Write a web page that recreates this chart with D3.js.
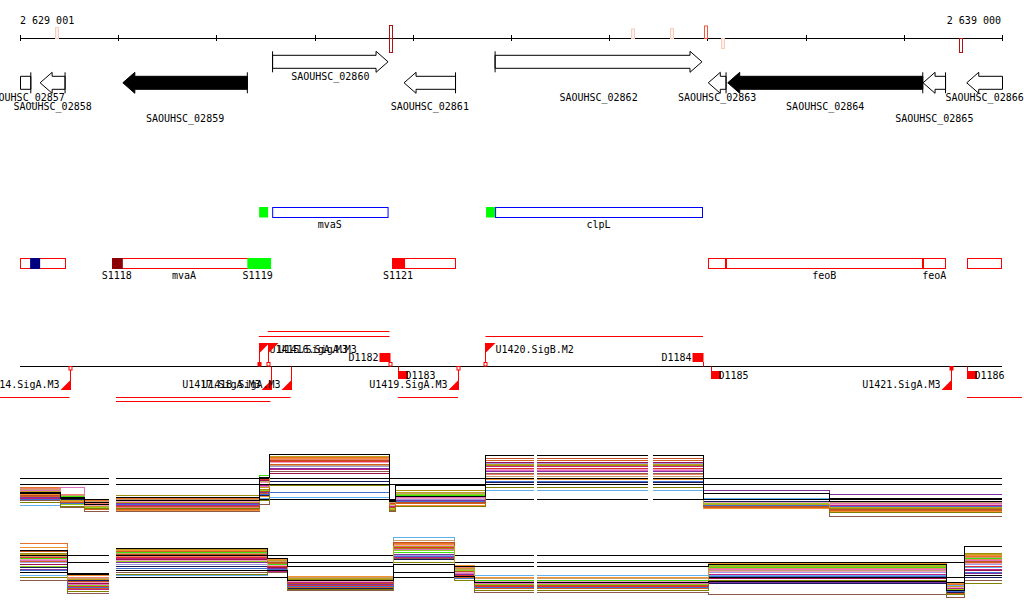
<!DOCTYPE html>
<html>
<head>
<meta charset="utf-8">
<script src="https://cdn.jsdelivr.net/npm/d3@7"></script>
<style>
  body { margin: 0; background: #fff; }
  svg { display: block; }
  text { font-family: "DejaVu Sans Mono", monospace; font-size: 10px; fill: #000; }
</style>
</head>
<body>
<script>
// region shown
const regionStart = 2629000;
const regionEnd = 2639000;

// genes (annotation)
const geneNames = ["SAOUHSC_02857", "SAOUHSC_02858", "SAOUHSC_02859", "SAOUHSC_02860", "SAOUHSC_02861",
  "SAOUHSC_02862", "SAOUHSC_02863", "SAOUHSC_02864", "SAOUHSC_02865", "SAOUHSC_02866"];
const geneStarts = [2628900, 2629205, 2630047, 2631572, 2632911, 2633838, 2636009, 2636207, 2638196, 2638641];
const geneEnds = [2629110, 2629459, 2631315, 2632748, 2633435, 2635945, 2636190, 2638193, 2638425, 2639100];
const geneStrands = [-1, -1, -1, 1, -1, 1, -1, -1, -1, -1];
const geneEssential = [false, false, true, false, false, false, false, true, false, false];
const geneLabelLine = [1, 2, 3, 0, 2, 1, 1, 2, 3, 1];

// small marks on the ruler
const markPos = [2629377, 2632779, 2632779, 2635240, 2635640, 2635983, 2636159, 2638583];
const markStrand = [1, 1, -1, 1, 1, 1, -1, -1];
const markScore = [11, 13, 14, 9.5, 10, 12.5, 10, 14];
const markKind = ["low", "high", "high", "low", "low", "mid", "low", "high"];

// transcription units (blue) with their start blocks (green)
const tuStarts = [2631568, 2633838];
const tuEnds = [2632743, 2635945];
const tuNames = ["mvaS", "clpL"];
const tuHeadStarts = [2631435, 2633746];
const tuHeadEnds = [2631526, 2633838];

// operon boxes (red)
const opStarts = [2629004, 2629938, 2632789, 2636009, 2636190, 2638196, 2638644];
const opEnds = [2629466, 2631557, 2633438, 2636190, 2638196, 2638425, 2638999];
const opBlockStarts = [2629103, 2629938, 2631315, 2632789];
const opBlockEnds = [2629205, 2630047, 2631557, 2632921];
const opBlockKind = ["navy", "darkred", "green", "red"];
const opLabels = ["S1118", "mvaA", "S1119", "S1121", "feoB", "feoA"];
const opLabelPos = [2629985, 2630670, 2631420, 2632850, 2637190, 2638310];

// promoter / terminator sites
const siteNames = ["U1414.SigA.M3", "U1415.SigA.M3", "U1416.SigA.M3", "U1417.SigA.M3", "U1418.SigA.M3",
  "D1182", "D1183", "U1419.SigA.M3", "U1420.SigB.M2", "D1184", "D1185", "U1421.SigA.M3", "D1186"];
const sitePos = [2629505, 2631431, 2631523, 2631551, 2631755, 2632763, 2632847, 2633460, 2633740,
  2635955, 2636037, 2638480, 2638643];
const siteStrand = [-1, 1, 1, -1, -1, 1, -1, -1, 1, 1, -1, -1, -1];
const siteBase = ["open", "filled", "open", "none", "none", "open", "none", "open", "open", "none", "none", "filled", "none"];

// transcripts from sites
const txStarts = [2631523, 2631431, 2633740, 2628797, 2629978, 2629978, 2632847, 2638643];
const txEnds = [2632763, 2632763, 2635955, 2629505, 2631755, 2631551, 2633460, 2639203];
const txStrand = [1, 1, 1, -1, -1, -1, -1, -1];
const txLane = [1, 0, 0, 0, 0, 1, 0, 0];

// expression tracks (log2 levels per block)
const track1Segments = [[2629000, 2629907], [2629975, 2634230], [2634265, 2635395], [2635446, 2639000]];
const track1Edges = [2629000, 2629410, 2629660, 2629940, 2631442, 2631544, 2632765, 2632826, 2633741, 2635959, 2637240, 2639000];
const track1Refs = [9.7, 9.0, 7.1];
const track2Segments = [[2629000, 2629907], [2629975, 2634230], [2634265, 2639000]];
const track2Edges = [2629000, 2629480, 2629940, 2631524, 2631727, 2632805, 2633426, 2633629, 2636009, 2638430, 2638623, 2639000];
const track2Refs = [10.1, 9.2, 7.35];

const condColors = ["#e8702a", "#a09010", "#40e010", "#e070c0", "#60b0f0", "#8b5a4a", "#a01050", "#8030a0",
  "#1a1a60", "#a0a0e0", "#f08070", "#d06020", "#e03030", "#90d020", "#c02080", "#c8a070",
  "#f09030", "#808000", "#f0a0c0", "#4070d0", "#c05020", "#c0a020", "#000000", "#000000"];
const track1Values = [
  [8.6, 7.8, 7.0, 7.2, 9.0, 12.4, 6.6, 7.8, 12.2, 6.9, 6.4],
  [8.3, 7.2, 6.5, 7.6, 8.4, 12.5, 6.2, 8.3, 11.4, 6.6, 6.0],
  [7.8, 7.5, 6.9, 6.9, 10.1, 12.0, 6.9, 7.6, 9.3, 6.8, 6.3],
  [8.2, 8.6, 6.4, 6.5, 8.8, 11.7, 6.5, 7.4, 10.8, 6.5, 6.6],
  [6.4, 6.8, 6.3, 6.0, 7.2, 7.4, 6.1, 7.0, 8.2, 7.2, 6.9],
  [7.0, 6.1, 5.6, 5.6, 6.5, 10.6, 5.6, 6.2, 10.4, 6.0, 5.0],
  [7.6, 7.0, 6.2, 6.3, 9.5, 10.4, 6.0, 6.8, 11.8, 6.2, 6.1],
  [7.4, 6.9, 6.4, 6.6, 8.0, 11.0, 6.4, 7.0, 10.6, 8.25, 7.7],
  [7.7, 7.1, 6.5, 6.8, 7.6, 9.4, 6.3, 7.3, 9.2, 6.9, 6.5],
  [7.9, 7.3, 6.8, 6.4, 8.6, 11.2, 6.3, 7.1, 11.6, 6.7, 6.7],
  [8.5, 7.7, 6.6, 6.1, 9.2, 12.1, 6.7, 7.5, 10.2, 6.3, 6.2],
  [7.5, 6.6, 5.9, 5.9, 7.9, 11.5, 5.8, 6.6, 12.0, 6.1, 5.8],
  [8.1, 7.4, 6.7, 6.7, 9.6, 11.9, 6.6, 7.2, 11.0, 6.4, 6.2],
  [7.2, 6.5, 6.1, 6.2, 8.2, 12.3, 6.0, 7.7, 9.0, 6.6, 5.9],
  [7.3, 6.7, 6.0, 6.4, 8.9, 10.9, 6.2, 6.9, 11.2, 6.5, 6.4],
  [8.4, 7.6, 6.9, 7.1, 9.4, 11.4, 6.8, 7.9, 10.0, 6.8, 6.8],
  [7.7, 6.9, 6.2, 5.8, 7.5, 12.2, 5.9, 6.4, 9.6, 6.0, 5.6],
  [6.8, 6.3, 6.0, 6.0, 7.0, 8.9, 5.7, 6.3, 8.6, 6.3, 5.5],
  [8.0, 7.3, 6.4, 6.9, 9.3, 11.8, 6.4, 7.3, 10.9, 6.7, 6.5],
  [7.1, 6.6, 6.2, 6.5, 7.8, 8.0, 6.1, 6.9, 9.4, 6.4, 6.3],
  [7.6, 6.8, 6.3, 6.2, 8.1, 12.0, 6.1, 6.7, 12.3, 6.2, 5.9],
  [8.1, 7.0, 6.3, 6.8, 8.6, 12.5, 6.5, 8.0, 11.5, 6.5, 6.1],
  [7.9, 7.2, 6.5, 7.0, 9.0, 9.0, 6.9, 7.5, 9.0, 7.1, 6.9],
  [8.0, 7.4, 6.8, 7.4, 9.9, 12.7, 7.0, 8.9, 12.6, 7.9, 7.3]
];
const track2Values = [
  [11.6, 7.3, 10.9, 9.5, 7.3, 11.6, 8.5, 7.2, 9.0, 6.5, 10.0],
  [10.4, 6.8, 10.8, 9.3, 7.1, 11.0, 8.2, 6.9, 8.8, 6.2, 10.4],
  [9.8, 7.0, 10.5, 9.0, 6.9, 10.5, 8.0, 7.0, 8.6, 6.0, 9.8],
  [9.5, 6.5, 10.2, 8.8, 6.6, 10.9, 7.9, 6.6, 8.4, 5.9, 9.5],
  [7.6, 6.2, 7.6, 8.2, 6.3, 12.4, 7.6, 7.6, 7.6, 6.4, 8.6],
  [7.0, 5.4, 8.0, 8.0, 5.8, 9.8, 7.3, 5.5, 5.3, 4.9, 7.0],
  [9.0, 6.6, 9.6, 8.6, 6.2, 11.3, 7.7, 6.1, 7.2, 5.8, 8.2],
  [8.4, 6.7, 9.2, 8.5, 6.5, 10.3, 7.8, 6.4, 6.8, 5.6, 7.9],
  [8.6, 7.0, 8.8, 8.4, 6.0, 9.6, 7.5, 6.3, 6.6, 5.5, 7.4],
  [9.2, 6.9, 9.0, 8.9, 7.0, 10.1, 8.1, 6.7, 8.0, 6.1, 9.0],
  [10.2, 7.4, 10.0, 9.2, 7.2, 11.8, 8.6, 6.8, 8.5, 6.3, 9.6],
  [9.4, 6.0, 10.6, 9.1, 6.1, 10.7, 7.4, 6.0, 8.7, 5.4, 9.2],
  [9.9, 6.3, 9.9, 8.7, 6.4, 11.1, 7.6, 6.2, 8.2, 5.7, 8.8],
  [8.8, 6.4, 9.4, 8.3, 6.8, 10.8, 8.3, 6.5, 8.9, 5.9, 10.3],
  [8.2, 5.9, 9.8, 8.1, 6.7, 9.9, 7.2, 6.9, 7.8, 6.0, 8.4],
  [10.0, 7.2, 10.4, 9.4, 7.4, 12.0, 8.4, 7.3, 8.3, 6.2, 9.9],
  [11.1, 7.6, 10.7, 9.6, 7.5, 11.5, 8.9, 7.4, 9.1, 6.6, 10.1],
  [7.4, 5.6, 7.8, 8.3, 5.9, 9.2, 7.0, 5.8, 7.0, 5.2, 6.6],
  [9.6, 6.7, 9.5, 8.9, 6.9, 11.4, 8.0, 6.9, 8.1, 6.1, 9.1],
  [8.3, 6.1, 8.5, 8.4, 6.2, 10.0, 7.3, 6.1, 7.5, 5.6, 8.0],
  [10.6, 6.9, 10.3, 9.2, 6.6, 11.7, 8.1, 6.4, 8.8, 5.8, 9.4],
  [10.3, 7.1, 10.9, 9.5, 7.2, 11.3, 8.5, 6.7, 8.7, 6.3, 10.2],
  [8.0, 7.8, 8.2, 8.2, 7.0, 9.0, 7.5, 6.8, 6.9, 5.7, 7.6],
  [10.8, 7.9, 11.0, 9.7, 8.7, 8.0, 8.8, 8.7, 9.0, 6.8, 11.2]
];

const markColors = { low: "#f7cdbd", mid: "#f0583c", high: "#b01010" };
const opBlockColors = { navy: "#000080", darkred: "#8b0000", green: "#00ff00", red: "#ff0000" };

const svg = d3
  .select("body")
  .append("svg")
  .attr("width", 1024)
  .attr("height", 611);

const xs = d3.scaleLinear().domain([regionStart, regionEnd]).range([20, 1002]);
const fmt = d3.formatLocale({ decimal: ".", thousands: " ", grouping: [3], currency: ["", ""] }).format(",d");

// ruler
svg.append("g")
  .attr("transform", "translate(0,35)")
  .call(d3.axisBottom(xs).ticks(10).tickSizeInner(6).tickSizeOuter(0).tickFormat(""))
  .call((g) => g.select(".domain").remove())
  .selectAll("line").attr("stroke", "#000").attr("shape-rendering", "crispEdges");
svg.append("line")
  .attr("x1", 20).attr("x2", 1002).attr("y1", 38.5).attr("y2", 38.5)
  .attr("stroke", "#000").attr("shape-rendering", "crispEdges");
svg.append("text").attr("x", 20).attr("y", 24).text(fmt(regionStart + 1));
svg.append("text").attr("x", 1001).attr("y", 24).attr("text-anchor", "end").text(fmt(regionEnd));

svg.selectAll(".mark")
  .data(markPos)
  .enter()
  .append("rect")
  .attr("x", (d) => Math.round(xs(d)) - 1.5)
  .attr("width", 3)
  .attr("y", (d, i) => (markStrand[i] > 0 ? 38.5 - markScore[i] : 38.5))
  .attr("height", (d, i) => markScore[i])
  .attr("fill", (d, i) => (markKind[i] === "low" ? "#fdf0ea" : "none"))
  .attr("stroke", (d, i) => markColors[markKind[i]]);

// genes
const geneLabelY = [80, 101, 110, 121.5];
geneNames.forEach(function (name, i) {
  const cy = geneStrands[i] > 0 ? 61.8 : 82.8;
  let a = xs(geneStarts[i]);
  let b = xs(geneEnds[i]);
  const clipL = a < 20;
  const clipR = b > 1002;
  a = Math.max(a, 20.5);
  b = Math.min(b, 1002.5);
  let pts;
  if (geneStrands[i] < 0) {
    const h = a + 12;
    pts = clipL
      ? [[a, cy - 6.5], [b, cy - 6.5], [b, cy + 6.5], [a, cy + 6.5]]
      : [[a, cy], [h, cy - 10.5], [h, cy - 6.5], [b, cy - 6.5], [b, cy + 6.5], [h, cy + 6.5], [h, cy + 10.5]];
  } else {
    const h = b - 12;
    pts = [[a, cy - 6.5], [h, cy - 6.5], [h, cy - 10.5], [b, cy], [h, cy + 10.5], [h, cy + 6.5], [a, cy + 6.5]];
  }
  svg.append("polygon")
    .attr("points", pts.map((p) => p.join(",")).join(" "))
    .attr("fill", geneEssential[i] ? "#000" : "#fff")
    .attr("stroke", "#000");
  const barX = geneStrands[i] < 0 ? b : a;
  if (!(geneStrands[i] < 0 ? clipR : clipL)) {
    svg.append("line")
      .attr("x1", barX).attr("x2", barX)
      .attr("y1", cy - 10.5).attr("y2", cy + 10.5)
      .attr("stroke", "#000");
  }
  svg.append("text")
    .attr("x", (a + b) / 2)
    .attr("y", geneLabelY[geneLabelLine[i]])
    .attr("text-anchor", "middle")
    .text(name);
});

// transcription units
svg.selectAll(".tuhead").data(tuHeadStarts).enter().append("rect")
  .attr("x", (d) => xs(d)).attr("y", 207)
  .attr("width", (d, i) => xs(tuHeadEnds[i]) - xs(d)).attr("height", 10.5)
  .attr("fill", "#00ff00");
svg.selectAll(".tu").data(tuStarts).enter().append("rect")
  .attr("x", (d) => xs(d) + 0.5).attr("y", 207.5)
  .attr("width", (d, i) => xs(tuEnds[i]) - xs(d)).attr("height", 10)
  .attr("fill", "#fff").attr("stroke", "#0000ff");
svg.selectAll(".tulab").data(tuNames).enter().append("text")
  .attr("x", (d, i) => (xs(tuStarts[i]) + xs(tuEnds[i])) / 2)
  .attr("y", 227.5).attr("text-anchor", "middle").text((d) => d);

// operons (adjacent boxes give a double divider)
svg.selectAll(".op").data(opStarts).enter().append("rect")
  .attr("x", (d) => Math.round(xs(d)) + 0.5).attr("y", 258.5)
  .attr("width", (d, i) => Math.round(xs(opEnds[i])) - Math.round(xs(d)) - 1).attr("height", 10)
  .attr("fill", "#fff").attr("stroke", "#ff0000");
svg.selectAll(".opblock").data(opBlockStarts).enter().append("rect")
  .attr("x", (d) => xs(d)).attr("y", 258)
  .attr("width", (d, i) => xs(opBlockEnds[i]) - xs(d)).attr("height", 11)
  .attr("fill", (d, i) => opBlockColors[opBlockKind[i]]);
svg.selectAll(".oplab").data(opLabels).enter().append("text")
  .attr("x", (d, i) => xs(opLabelPos[i])).attr("y", 278.5)
  .attr("text-anchor", "middle").text((d) => d);

// sites
const base = 366.5;
svg.append("line").attr("x1", 20).attr("x2", 1002).attr("y1", base).attr("y2", base).attr("stroke", "#000");
const laneY = (s, l) => (s > 0 ? 336.5 - 5 * l : 397.5 + 4 * l);
svg.selectAll(".tx").data(txStarts).enter().append("line")
  .attr("x1", (d) => xs(d)).attr("x2", (d, i) => xs(txEnds[i]))
  .attr("y1", (d, i) => laneY(txStrand[i], txLane[i]))
  .attr("y2", (d, i) => laneY(txStrand[i], txLane[i]))
  .attr("stroke", "#ff0000");

siteNames.forEach(function (name, i) {
  const x = Math.round(xs(sitePos[i])) + 0.5;
  const up = siteStrand[i] > 0;
  const g = svg.append("g");
  if (name[0] === "U") {
    if (up) {
      g.append("line").attr("x1", x).attr("x2", x).attr("y1", 343).attr("y2", base).attr("stroke", "#ff0000");
      g.append("path").attr("d", `M${x},343H${x + 10}L${x},353Z`).attr("fill", "#ff0000");
      g.append("text").attr("x", x + 10).attr("y", 353).text(name);
    } else {
      g.append("line").attr("x1", x).attr("x2", x).attr("y1", base).attr("y2", 390).attr("stroke", "#ff0000");
      g.append("path").attr("d", `M${x},390H${x - 10}L${x},380Z`).attr("fill", "#ff0000");
      g.append("text").attr("x", x - 11).attr("y", 387.5).attr("text-anchor", "end").text(name);
    }
  } else {
    if (up) {
      g.append("line").attr("x1", x).attr("x2", x).attr("y1", 362).attr("y2", base).attr("stroke", "#ff0000");
      g.append("rect").attr("x", x - 11).attr("y", 353).attr("width", 11).attr("height", 9).attr("fill", "#ff0000");
      g.append("text").attr("x", x - 12).attr("y", 361).attr("text-anchor", "end").text(name);
    } else {
      g.append("line").attr("x1", x).attr("x2", x).attr("y1", base).attr("y2", 371).attr("stroke", "#ff0000");
      g.append("rect").attr("x", x - 0.5).attr("y", 371).attr("width", 10).attr("height", 8).attr("fill", "#ff0000");
      g.append("text").attr("x", x + 7).attr("y", 378.5).text(name);
    }
  }
  if (siteBase[i] !== "none") {
    g.append("rect")
      .attr("x", x - 1.5).attr("y", up ? 362.5 : 366.5)
      .attr("width", 3).attr("height", 3.5)
      .attr("fill", siteBase[i] === "filled" ? "#ff0000" : "#fff")
      .attr("stroke", "#ff0000");
  }
});

// expression tracks
function drawTrack(edges, values, segments, refs, y) {
  const g = svg.append("g").attr("shape-rendering", "crispEdges");
  segments.forEach(function (s) {
    refs.forEach(function (r) {
      g.append("line")
        .attr("x1", xs(s[0])).attr("x2", xs(s[1]))
        .attr("y1", Math.round(y(r)) + 0.5).attr("y2", Math.round(y(r)) + 0.5)
        .attr("stroke", "#000");
    });
  });
  const line = d3.line().x((d) => xs(d[0])).y((d) => Math.round(y(d[1])) + 0.5);
  values.forEach(function (vals, c) {
    segments.forEach(function (s) {
      const pts = [];
      vals.forEach(function (v, b) {
        const a = Math.max(edges[b], s[0]);
        const e = Math.min(edges[b + 1], s[1]);
        if (a < e) pts.push([a, v], [e, v]);
      });
      g.append("path")
        .attr("d", line(pts))
        .attr("fill", "none")
        .attr("stroke", condColors[c]);
    });
  });
}

drawTrack(track1Edges, track1Values, track1Segments, track1Refs,
  d3.scaleLinear().domain([4, 14]).range([524, 444]));
drawTrack(track2Edges, track2Values, track2Segments, track2Refs,
  d3.scaleLinear().domain([4, 14]).range([604, 524]));
</script>
</body>
</html>
